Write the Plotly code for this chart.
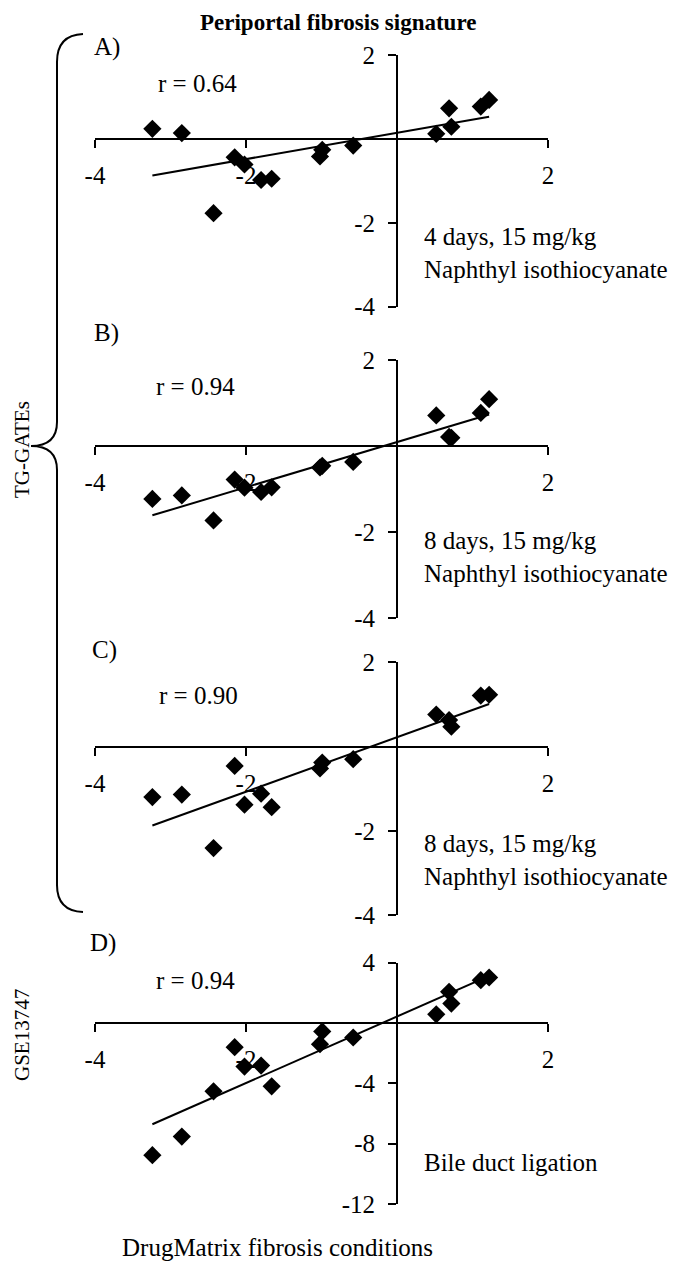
import numpy as np
import plotly.graph_objects as go

# page has an 8px body margin, so the figure is sized to fit the window
OFF = 8
W, H = 677 - OFF, 1267 - OFF

# DrugMatrix fibrosis conditions (shared x values)
x_drugmatrix = [-3.24, -2.85, -2.43, -2.15, -2.02, -1.80, -1.66, -0.99, -1.02, -0.58, 0.52, 0.69, 0.72, 1.11, 1.22]
# Panel values
y_A = [0.24, 0.14, -1.77, -0.44, -0.61, -0.98, -0.95, -0.26, -0.42, -0.16, 0.12, 0.73, 0.29, 0.77, 0.93]
y_B = [-1.23, -1.15, -1.73, -0.78, -0.97, -1.07, -0.96, -0.46, -0.50, -0.37, 0.71, 0.21, 0.19, 0.77, 1.09]
y_C = [-1.20, -1.14, -2.41, -0.46, -1.38, -1.12, -1.44, -0.38, -0.52, -0.30, 0.76, 0.63, 0.47, 1.21, 1.23]
y_D = [-8.76, -7.53, -4.53, -1.60, -2.89, -2.82, -4.20, -0.56, -1.40, -0.96, 0.58, 2.07, 1.29, 2.84, 3.02]

panel_letters = ["A)", "B)", "C)", "D)"]
r_labels = ["r = 0.64", "r = 0.94", "r = 0.90", "r = 0.94"]
conditions = ["4 days, 15 mg/kg<br>Naphthyl isothiocyanate",
              "8 days, 15 mg/kg<br>Naphthyl isothiocyanate",
              "8 days, 15 mg/kg<br>Naphthyl isothiocyanate",
              "Bile duct ligation"]
x_ticks = [-4, -2, 2]
y_ticks = [[-4, -2, 2], [-4, -2, 2], [-4, -2, 2], [-12, -8, -4, 4]]
y_ranges = [[-4, 2], [-4, 2], [-4, 2], [-12, 4]]
x_range = [-4, 2]

# layout geometry (window pixels)
x_left, x_right = 95, 548
panel_px = [(55, 306.7), (360, 618), (662.3, 915), (962.7, 1204)]
letter_pos = [(92, 47), (92, 333), (90, 650), (88, 943)]
r_pos = [(156, 83), (154, 387), (157, 695), (154, 980)]
cond_pos = [(422, 253), (422, 557), (422, 860), (422, 1162)]

FONT = "Liberation Serif"
FS = 25

def px(x):
    return (x - OFF) / W

def py(y):
    return 1 - (y - OFF) / H

fig = go.Figure()
ys = [y_A, y_B, y_C, y_D]
annotations = []
for i in range(4):
    n = "" if i == 0 else str(i + 1)
    xa, ya = "x" + n, "y" + n
    yv = ys[i]
    fig.add_trace(go.Scatter(x=x_drugmatrix, y=yv, mode="markers", xaxis=xa, yaxis=ya,
                             marker=dict(symbol="diamond", size=14, color="black"),
                             cliponaxis=False, showlegend=False))
    k, b = np.polyfit(x_drugmatrix, yv, 1)
    xl = np.array([min(x_drugmatrix), max(x_drugmatrix)])
    fig.add_trace(go.Scatter(x=xl, y=k * xl + b, mode="lines", xaxis=xa, yaxis=ya,
                             line=dict(color="black", width=2), cliponaxis=False, showlegend=False))
    top, bot = panel_px[i]
    r0, r1 = y_ranges[i]
    zero_px = top + (r1 - 0) / (r1 - r0) * (bot - top)
    x_zero_px = x_left + (0 - x_range[0]) / (x_range[1] - x_range[0]) * (x_right - x_left)
    fig.update_layout(**{
        ("xaxis" + n): dict(domain=[px(x_left), px(x_right)], range=x_range, anchor="free",
                            position=py(zero_px), showline=True, linecolor="black", linewidth=2,
                            ticks="outside", ticklen=8, tickwidth=2, tickcolor="black",
                            tickvals=x_ticks, ticktext=[str(v) for v in x_ticks],
                            ticklabelstandoff=6, automargin=False,
                            tickfont=dict(family=FONT, size=FS, color="black"),
                            showgrid=False, zeroline=False),
        ("yaxis" + n): dict(domain=[py(bot), py(top)], range=y_ranges[i], anchor="free",
                            position=px(x_zero_px), showline=True, linecolor="black", linewidth=2,
                            ticks="outside", ticklen=8, tickwidth=2, tickcolor="black",
                            tickvals=y_ticks[i], ticktext=[str(v) for v in y_ticks[i]],
                            ticklabelstandoff=8, automargin=False,
                            tickfont=dict(family=FONT, size=FS, color="black"),
                            showgrid=False, zeroline=False),
    })
    lx, ly = letter_pos[i]
    annotations.append(dict(text=panel_letters[i], x=px(lx), y=py(ly), xref="paper", yref="paper",
                            xanchor="left", yanchor="middle", showarrow=False,
                            font=dict(family=FONT, size=FS, color="black")))
    rx, ry = r_pos[i]
    annotations.append(dict(text=r_labels[i], x=px(rx), y=py(ry), xref="paper", yref="paper",
                            xanchor="left", yanchor="middle", showarrow=False,
                            font=dict(family=FONT, size=FS, color="black")))
    cx, cy = cond_pos[i]
    annotations.append(dict(text=conditions[i], x=px(cx), y=py(cy), xref="paper", yref="paper",
                            xanchor="left", yanchor="middle", align="left", showarrow=False,
                            font=dict(family=FONT, size=FS, color="black")))

annotations.append(dict(text="<b>Periportal fibrosis signature</b>", x=px(338), y=py(8),
                        xref="paper", yref="paper", xanchor="center", yanchor="top", showarrow=False,
                        font=dict(family=FONT, size=23, color="black")))
annotations.append(dict(text="DrugMatrix fibrosis conditions", x=px(277), y=py(1247),
                        xref="paper", yref="paper", xanchor="center", yanchor="middle", showarrow=False,
                        font=dict(family=FONT, size=FS, color="black")))
annotations.append(dict(text="TG-GATEs", x=px(22), y=py(450), textangle=-90,
                        xref="paper", yref="paper", xanchor="center", yanchor="middle", showarrow=False,
                        font=dict(family=FONT, size=21, color="black")))
annotations.append(dict(text="GSE13747", x=px(22), y=py(1035), textangle=-90,
                        xref="paper", yref="paper", xanchor="center", yanchor="middle", showarrow=False,
                        font=dict(family=FONT, size=21, color="black")))

# curly brace (decoration), in paper coordinates
def P(x, y):
    return f"{px(x):.5f},{py(y):.5f}"

tip = 446
brace = (f"M {P(83,34)} Q {P(57,35)} {P(57,62)} L {P(57,tip-24)} Q {P(57,tip)} {P(31,tip)} "
         f"Q {P(57,tip)} {P(57,tip+24)} L {P(57,885)} Q {P(57,911)} {P(83,912)}")

fig.update_layout(
    width=W, height=H, margin=dict(l=0, r=0, t=0, b=0, autoexpand=False),
    paper_bgcolor="white", plot_bgcolor="rgba(0,0,0,0)",
    annotations=annotations,
    shapes=[dict(type="path", path=brace, xref="paper", yref="paper",
                 line=dict(color="black", width=2))],
    showlegend=False,
)

fig.write_html("out.html")
